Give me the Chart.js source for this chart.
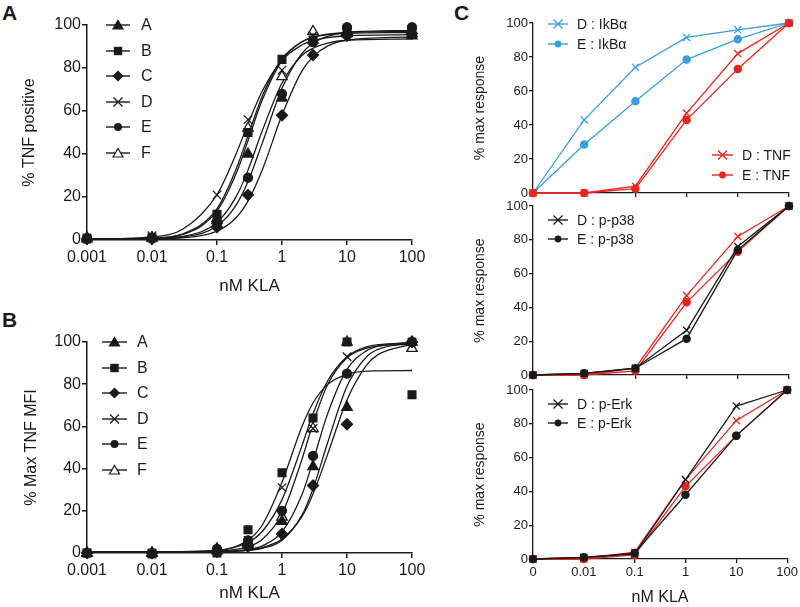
<!DOCTYPE html>
<html>
<head>
<meta charset="utf-8">
<script src="https://cdn.jsdelivr.net/npm/chart.js@4.4.1/dist/chart.umd.min.js"></script>
<style>
    body { margin: 0; background: #fff; }
    #wrap { position: relative; width: 800px; height: 607px; overflow: hidden; font-family: 'Liberation Sans', Arial, sans-serif; color: #1a1a1a; }
    canvas { position: absolute; }
    .panel { position: absolute; font-weight: bold; font-size: 21px; line-height: 1; }
    .leg { position: absolute; height: 18px; display: flex; align-items: center; white-space: nowrap; line-height: 1; }
    .leg svg { display: block; }
</style>
</head>
<body>
<div id="wrap">
    <div class="panel" style="left:2px;top:2px">A</div>
    <div class="panel" style="left:2px;top:309px">B</div>
    <div class="panel" style="left:454px;top:2px">C</div>
    <canvas id="chartA" width="430" height="300" style="left:0;top:0"></canvas>
    <canvas id="chartB" width="430" height="307" style="left:0;top:300px"></canvas>
    <canvas id="chartC1" width="380" height="202" style="left:420px;top:0"></canvas>
    <canvas id="chartC2" width="380" height="189" style="left:420px;top:195px"></canvas>
    <canvas id="chartC3" width="380" height="227" style="left:420px;top:380px"></canvas>
</div>
<script>
// ---- data ----
var groups = ['A', 'B', 'C', 'D', 'E', 'F'];
var doses = [0.001, 0.01, 0.1, 0.3, 1, 3, 10, 100];
var xTicksAB = [0.001, 0.01, 0.1, 1, 10, 100];
var xTickLabelsAB = ['0.001', '0.01', '0.1', '1', '10', '100'];
var yTicks = [0, 20, 40, 60, 80, 100];

// panel A: % TNF positive (measured points)
var posA = [1, 1, 9, 40, 66, 93, 96, 95];
var posB = [0.5, 1, 12, 50, 84, 93, 97, 97];
var posC = [0.5, 0.5, 6, 21, 58, 86, 95, 96];
var posD = [1, 2, 21, 56, 79, 95, 97, 96];
var posE = [1, 1, 8, 29, 68, 92, 99, 99];
var posF = [0.5, 1, 10, 52, 76, 97, 97, 96];

// panel A: fitted curves
var posFitDoses = [0.001, 0.01, 0.03, 0.1, 0.2, 0.3, 0.5, 1, 2, 3, 5, 10, 100];
var posFitA = [0.5, 0.7, 1.7, 8.2, 20.5, 32.5, 51, 73, 85.7, 89.2, 91.6, 92.9, 93.5];
var posFitB = [0.5, 0.9, 2.9, 14.6, 33.5, 48.5, 67.1, 84.3, 92.1, 94.2, 95.5, 96.1, 96.5];
var posFitC = [0.5, 0.6, 1.0, 4.1, 10.6, 18.1, 32.8, 58.1, 78.3, 85.3, 90.2, 93, 94.5];
var posFitD = [0.5, 1.5, 5.1, 21.1, 40.6, 54, 69.4, 83.6, 90.6, 92.7, 94.1, 95, 95.5];
var posFitE = [0.5, 0.7, 1.4, 6.5, 16.6, 27.2, 45.3, 70.6, 86.6, 91.5, 94.7, 96.6, 97.5];
var posFitF = [0.5, 0.9, 2.6, 13.5, 31.4, 46.2, 65.3, 83.6, 92.1, 94.4, 95.8, 96.6, 97];

// panel B: % max TNF MFI (measured points)
var mfiA = [0, 0, 2, 5, 15, 41, 69, 100];
var mfiB = [0, -0.5, 0, 11, 38, 64, 100, 75];
var mfiC = [0, 0, 1, 3, 9, 32, 61, 100];
var mfiD = [0, 0, 1, 6, 31, 59, 93, 100];
var mfiE = [0, 0, 2, 6, 20, 46, 85, 100];
var mfiF = [0, 0, 1, 5, 17, 59, 100, 97];

// panel B: fitted curves
var mfiFitDoses = [0.001, 0.01, 0.1, 0.3, 0.5, 1, 2, 3, 5, 10, 20, 30, 100];
var mfiFitA = [0.5, 0.5, 0.6, 1.2, 2.2, 6.1, 17.6, 30.4, 52, 79, 93, 96.5, 99.6];
var mfiFitB = [0.3, 0.3, 1.1, 6.1, 13.4, 33.5, 59.5, 71.1, 79.8, 84.7, 86.2, 86.3, 86.5];
var mfiFitC = [0.5, 0.5, 0.6, 1.4, 2.6, 6.6, 17, 28, 46.5, 72.5, 89, 94, 99];
var mfiFitD = [0.5, 0.5, 1.3, 5.1, 10.3, 25.3, 50.3, 66, 81.4, 93, 97.7, 98.7, 99.8];
var mfiFitE = [0.5, 0.5, 0.7, 1.7, 3.4, 10, 27.2, 43.5, 65.7, 87, 95.9, 98, 99.8];
var mfiFitF = [0.5, 0.5, 0.85, 3, 6.5, 18.6, 43.8, 61.4, 79.6, 92.5, 97.1, 98.1, 98.9];

// panel C: % max response
var cDoses = ['0', '0.01', '0.1', '1', '10', '100'];
var ikbD = [0, 43, 74, 91.5, 96, 100];
var ikbE = [0, 28.5, 54, 78.5, 90.5, 100];
var tnfD = [0, 0, 4, 47, 82, 100];
var tnfE = [0, 0, 2.5, 43, 73, 100];
var p38D = [0, 1, 4, 26.5, 76, 100];
var p38E = [0, 1, 4, 21.5, 74, 100];
var erkD = [0, 1, 3, 47, 90.5, 100];
var erkE = [0, 1, 3.5, 38, 73, 100];

// ---- styles ----
var FONT = "'Liberation Sans', Arial, sans-serif";
var INK = '#1a1a1a';
var RED = '#e8261e';
var BLUE = '#3a9fdc';

var markers = {
    A: { style: 'triangle', fill: INK, r: 6 },
    B: { style: 'rect', fill: INK, r: 5.5 },
    C: { style: 'rectRot', fill: INK, r: 5.5 },
    D: { style: 'crossRot', fill: INK, r: 6 },
    E: { style: 'circle', fill: INK, r: 4.5 },
    F: { style: 'triangle', fill: '#fff', r: 6 }
};

function toPoints(xs, ys) {
    return xs.map(function (x, i) { return { x: x, y: ys[i] }; });
}

function curveSet(xs, ys) {
    return {
        data: toPoints(xs, ys), showLine: true, pointRadius: 0,
        borderColor: INK, borderWidth: 1.3, cubicInterpolationMode: 'monotone',
        fill: false, clip: false
    };
}

function markerSet(ys, g) {
    var m = markers[g];
    return {
        data: toPoints(doses, ys), showLine: false,
        pointStyle: m.style, pointRadius: m.r,
        pointBackgroundColor: m.fill, pointBorderColor: INK, pointBorderWidth: 1.3,
        clip: false
    };
}

function yAxis(width, title, titlePad, fontSize) {
    return {
        min: 0, max: 100,
        afterBuildTicks: function (s) { s.ticks = yTicks.map(function (v) { return { value: v }; }); },
        afterFit: function (s) { s.width = width; },
        ticks: { font: { family: FONT, size: fontSize }, color: INK, padding: 1 },
        grid: { drawOnChartArea: false, tickLength: 5, color: INK, lineWidth: 1.5 },
        border: { color: INK, width: 1.5 },
        title: { display: true, text: title, color: INK, font: { family: FONT, size: fontSize === 16 ? 16 : 14 }, padding: { top: titlePad, bottom: 0 } }
    };
}

function logAxis(height) {
    return {
        type: 'logarithmic', min: 0.001, max: 100,
        afterBuildTicks: function (s) { s.ticks = xTicksAB.map(function (v) { return { value: v }; }); },
        afterFit: function (s) { s.height = height; },
        ticks: {
            font: { family: FONT, size: 16 }, color: INK, padding: 3, maxRotation: 0, autoSkip: false,
            callback: function (v, i) { return xTickLabelsAB[i]; }
        },
        grid: { drawOnChartArea: false, tickLength: 5, color: INK, lineWidth: 1.5 },
        border: { color: INK, width: 1.5 },
        title: { display: true, text: 'nM KLA', color: INK, font: { family: FONT, size: 17 }, padding: { top: 0, bottom: 3 } }
    };
}

var baseOptions = {
    responsive: false, animation: false, events: [],
    plugins: { legend: { display: false }, tooltip: { enabled: false } }
};

function opts(extra) {
    return Object.assign({}, baseOptions, extra);
}

// ---- panel A ----
var fitsA = [posFitA, posFitB, posFitC, posFitD, posFitE, posFitF];
var ptsA = [posA, posB, posC, posD, posE, posF];
var setsA = [];
groups.forEach(function (g, i) { setsA.push(markerSet(ptsA[i], g)); });
groups.forEach(function (g, i) { setsA.push(curveSet(posFitDoses, fitsA[i])); });

new Chart(document.getElementById('chartA').getContext('2d'), {
    type: 'scatter',
    data: { datasets: setsA },
    options: opts({
        layout: { padding: { left: 0, top: 25, right: 18, bottom: 0 } },
        scales: { x: logAxis(60), y: yAxis(87, '% TNF positive', 20, 16) }
    })
});

// ---- panel B ----
var fitsB = [mfiFitA, mfiFitB, mfiFitC, mfiFitD, mfiFitE, mfiFitF];
var ptsB = [mfiA, mfiB, mfiC, mfiD, mfiE, mfiF];
var setsB = [];
groups.forEach(function (g, i) { setsB.push(markerSet(ptsB[i], g)); });
groups.forEach(function (g, i) { setsB.push(curveSet(mfiFitDoses, fitsB[i])); });

new Chart(document.getElementById('chartB').getContext('2d'), {
    type: 'scatter',
    data: { datasets: setsB },
    options: opts({
        layout: { padding: { left: 0, top: 42, right: 18, bottom: 0 } },
        scales: { x: logAxis(54), y: yAxis(87, '% Max TNF MFI', 22, 16) }
    })
});

// ---- panel C ----
function cLine(values, color, isCross) {
    return {
        data: values, borderColor: color, borderWidth: 1.3, fill: false, tension: 0,
        pointStyle: isCross ? 'crossRot' : 'circle', pointRadius: isCross ? 5 : 3.6,
        pointBackgroundColor: color, pointBorderColor: color, pointBorderWidth: 1.3, clip: false
    };
}

function cAxisX(showLabels, height) {
    return {
        type: 'category', offset: false,
        afterFit: function (s) { s.height = height; },
        ticks: { display: showLabels, font: { family: FONT, size: 13 }, color: INK, padding: 2, maxRotation: 0, autoSkip: false },
        grid: { drawOnChartArea: false, offset: false, tickLength: 4, color: INK, lineWidth: 1.3 },
        border: { color: INK, width: 1.3 },
        title: { display: showLabels, text: 'nM KLA', color: INK, font: { family: FONT, size: 16 }, padding: { top: 0, bottom: 0 } }
    };
}

function cAxisY() {
    var y = yAxis(113, '% max response', 52, 13);
    y.grid.tickLength = 4;
    y.grid.lineWidth = 1.3;
    y.border.width = 1.3;
    return y;
}

new Chart(document.getElementById('chartC1').getContext('2d'), {
    type: 'line',
    data: {
        labels: cDoses,
        datasets: [cLine(tnfD, RED, true), cLine(tnfE, RED, false), cLine(ikbD, BLUE, true), cLine(ikbE, BLUE, false)]
    },
    options: opts({
        layout: { padding: { left: 0, top: 23, right: 11, bottom: 0 } },
        scales: { x: cAxisX(false, 9), y: cAxisY() }
    })
});

new Chart(document.getElementById('chartC2').getContext('2d'), {
    type: 'line',
    data: {
        labels: cDoses,
        datasets: [cLine(p38D, INK, true), cLine(p38E, INK, false), cLine(tnfD, RED, true), cLine(tnfE, RED, false)]
    },
    options: opts({
        layout: { padding: { left: 0, top: 11, right: 11, bottom: 0 } },
        scales: { x: cAxisX(false, 9), y: cAxisY() }
    })
});

new Chart(document.getElementById('chartC3').getContext('2d'), {
    type: 'line',
    data: {
        labels: cDoses,
        datasets: [cLine(erkD, INK, true), cLine(erkE, INK, false), cLine(tnfD, RED, true), cLine(tnfE, RED, false)]
    },
    options: opts({
        layout: { padding: { left: 0, top: 10, right: 11, bottom: 0 } },
        scales: { x: cAxisX(true, 48), y: cAxisY() }
    })
});

// ---- legends (HTML) ----
function symbolSvg(shape, color, w) {
    var c = w / 2, s = '';
    if (shape === 'triangle' || shape === 'openTriangle') {
        var fill = shape === 'openTriangle' ? '#fff' : color;
        s = '<polygon points="' + (c - 5) + ',12 ' + (c + 5) + ',12 ' + c + ',3.5" fill="' + fill + '" stroke="' + color + '" stroke-width="1.2"/>';
    } else if (shape === 'rect') {
        s = '<rect x="' + (c - 4.2) + '" y="3.8" width="8.4" height="8.4" fill="' + color + '"/>';
    } else if (shape === 'rectRot') {
        s = '<polygon points="' + (c - 5.5) + ',8 ' + c + ',2.5 ' + (c + 5.5) + ',8 ' + c + ',13.5" fill="' + color + '"/>';
    } else if (shape === 'cross') {
        s = '<path d="M' + (c - 4.5) + ' 3.5L' + (c + 4.5) + ' 12.5M' + (c + 4.5) + ' 3.5L' + (c - 4.5) + ' 12.5" stroke="' + color + '" stroke-width="1.3"/>';
    } else if (shape === 'circle') {
        s = '<circle cx="' + c + '" cy="8" r="4" fill="' + color + '"/>';
    } else if (shape === 'smallCircle') {
        s = '<circle cx="' + c + '" cy="8" r="3.4" fill="' + color + '"/>';
    }
    return '<svg width="' + w + '" height="16"><line x1="0" y1="8" x2="' + w + '" y2="8" stroke="' + color + '" stroke-width="1.4"/>' + s + '</svg>';
}

function addLegend(x, yc, shape, color, text, w, gap, fontSize) {
    var d = document.createElement('div');
    d.className = 'leg';
    d.style.left = x + 'px';
    d.style.top = (yc - 9) + 'px';
    d.style.fontSize = fontSize + 'px';
    d.innerHTML = symbolSvg(shape, color, w) + '<span style="margin-left:' + gap + 'px">' + text + '</span>';
    document.getElementById('wrap').appendChild(d);
}

var legendShapes = ['triangle', 'rect', 'rectRot', 'cross', 'circle', 'openTriangle'];
groups.forEach(function (g, i) {
    addLegend(106, 25 + i * 25.6, legendShapes[i], INK, g, 24, 11, 16);
    addLegend(102, 342 + i * 25.6, legendShapes[i], INK, g, 25, 10, 16);
});

addLegend(548, 24, 'cross', BLUE, 'D : IkB\u03b1', 20, 9, 14);
addLegend(548, 44, 'smallCircle', BLUE, 'E : IkB\u03b1', 20, 9, 14);
addLegend(712, 155, 'cross', RED, 'D : TNF', 21, 9, 14);
addLegend(712, 175, 'smallCircle', RED, 'E : TNF', 21, 9, 14);
addLegend(548, 220, 'cross', INK, 'D : p-p38', 20, 9, 14);
addLegend(548, 239, 'smallCircle', INK, 'E : p-p38', 20, 9, 14);
addLegend(548, 404, 'cross', INK, 'D : p-Erk', 20, 9, 14);
addLegend(548, 423, 'smallCircle', INK, 'E : p-Erk', 20, 9, 14);
</script>
</body>
</html>
